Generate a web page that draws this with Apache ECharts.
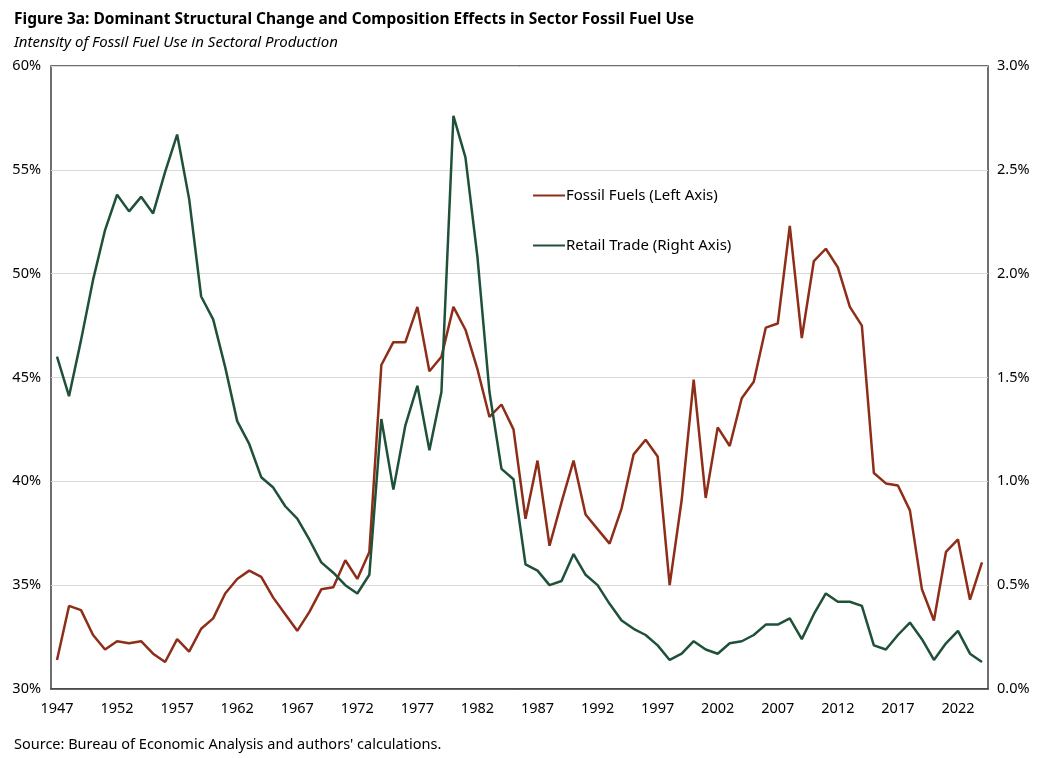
<!DOCTYPE html>
<html>
<head>
<meta charset="utf-8">
<script src="https://cdn.jsdelivr.net/npm/echarts@6/dist/echarts.min.js"></script>
<style>html,body{margin:0;padding:0;background:#fff}#c{width:1044px;height:758px}</style>
</head>
<body>
<div id="c"></div>
<script>
const years = [];
for (let y = 1947; y <= 2024; y++) years.push(String(y));

const fossilFuels = [
  31.4, 34.0, 33.8, 32.6, 31.9, 32.3, 32.2, 32.3, 31.7, 31.3,
  32.4, 31.8, 32.9, 33.4, 34.6, 35.3, 35.7, 35.4, 34.4, 33.6,
  32.8, 33.7, 34.8, 34.9, 36.2, 35.3, 36.6, 45.6, 46.7, 46.7,
  48.4, 45.3, 46.0, 48.4, 47.3, 45.4, 43.1, 43.7, 42.5, 38.2,
  41.0, 36.9, 39.0, 41.0, 38.4, 37.7, 37.0, 38.7, 41.3, 42.0,
  41.2, 35.0, 39.1, 44.9, 39.2, 42.6, 41.7, 44.0, 44.8, 47.4,
  47.6, 52.3, 46.9, 50.6, 51.2, 50.3, 48.4, 47.5, 40.4, 39.9,
  39.8, 38.6, 34.8, 33.3, 36.6, 37.2, 34.3, 36.1
];

const retailTrade = [
  1.60, 1.41, 1.68, 1.97, 2.21, 2.38, 2.30, 2.37, 2.29, 2.49,
  2.67, 2.36, 1.89, 1.78, 1.55, 1.29, 1.18, 1.02, 0.97, 0.88,
  0.82, 0.72, 0.61, 0.56, 0.50, 0.46, 0.55, 1.30, 0.96, 1.27,
  1.46, 1.15, 1.43, 2.76, 2.56, 2.08, 1.43, 1.06, 1.01, 0.60,
  0.57, 0.50, 0.52, 0.65, 0.55, 0.50, 0.41, 0.33, 0.29, 0.26,
  0.21, 0.14, 0.17, 0.23, 0.19, 0.17, 0.22, 0.23, 0.26, 0.31,
  0.31, 0.34, 0.24, 0.36, 0.46, 0.42, 0.42, 0.40, 0.21, 0.19,
  0.26, 0.32, 0.24, 0.14, 0.22, 0.28, 0.17, 0.13
];

const titleText = 'Figure 3a: Dominant Structural Change and Composition Effects in Sector Fossil Fuel Use';
const subtitleText = 'Intensity of Fossil Fuel Use in Sectoral Production';
const sourceText = "Source: Bureau of Economic Analysis and authors' calculations.";
const seriesNames = ['Fossil Fuels (Left Axis)', 'Retail Trade (Right Axis)'];

const FONT = 'Noto Sans';
const chart = echarts.init(document.getElementById('c'), null, {renderer: 'canvas'});
chart.setOption({
  backgroundColor: '#fff',
  animation: false,
  textStyle: {fontFamily: FONT},
  title: [
    {
      text: titleText, left: 9, top: 7,
      textStyle: {fontFamily: FONT, fontSize: 15.5, fontWeight: 'bold', color: '#000'}
    },
    {
      text: subtitleText, left: 9, top: 30,
      textStyle: {fontFamily: FONT, fontSize: 15, fontWeight: 'normal', fontStyle: 'italic', color: '#000'}
    },
    {
      text: sourceText, left: 9, top: 732,
      textStyle: {fontFamily: FONT, fontSize: 14.5, fontWeight: 'normal', color: '#000'}
    }
  ],
  legend: {
    orient: 'vertical', left: 528, top: 183, itemGap: 35,
    itemWidth: 32, itemHeight: 2,
    icon: 'rect',
    textStyle: {fontFamily: FONT, fontSize: 15, color: '#000', padding: [0, 0, 0, -4]},
    data: seriesNames
  },
  grid: {left: 51, right: 56, top: 66, bottom: 69, show: true, borderColor: '#404040', borderWidth: 1.5, containLabel: false},
  xAxis: {
    type: 'category', data: years, boundaryGap: true,
    axisLine: {show: true, lineStyle: {color: '#404040', width: 1.5}},
    axisTick: {show: false},
    axisLabel: {interval: 4, color: '#000', fontSize: 14.5, fontFamily: FONT, margin: 12},
    splitLine: {show: false}
  },
  yAxis: [
    {
      type: 'value', min: 30, max: 60, interval: 5,
      axisLine: {show: false}, axisTick: {show: false},
      axisLabel: {formatter: '{value}%', color: '#000', fontSize: 14.5, fontFamily: FONT, margin: 10},
      splitLine: {show: true, lineStyle: {color: '#d9d9d9', width: 1}}
    },
    {
      type: 'value', min: 0, max: 3, interval: 0.5, position: 'right',
      axisLine: {show: false}, axisTick: {show: false},
      axisLabel: {formatter: v => v.toFixed(1) + '%', color: '#000', fontSize: 14.5, fontFamily: FONT, margin: 9},
      splitLine: {show: false}
    }
  ],
  series: [
    {
      name: seriesNames[0], type: 'line', yAxisIndex: 0, data: fossilFuels,
      showSymbol: false, symbol: 'none',
      lineStyle: {color: '#8e2e18', width: 2.5}, itemStyle: {color: '#8e2e18'}
    },
    {
      name: seriesNames[1], type: 'line', yAxisIndex: 1, data: retailTrade,
      showSymbol: false, symbol: 'none',
      lineStyle: {color: '#1f5138', width: 2.5}, itemStyle: {color: '#1f5138'}
    }
  ]
});
</script>
</body>
</html>
